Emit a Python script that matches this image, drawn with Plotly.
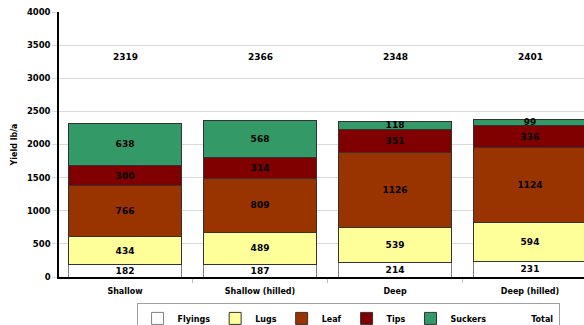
import plotly.graph_objects as go

categories = ["Shallow", "Shallow (hilled)", "Deep", "Deep (hilled)"]
flyings = [182, 187, 214, 231]
lugs = [434, 489, 539, 594]
leaf = [766, 809, 1126, 1124]
tips = [300, 314, 351, 336]
suckers = [638, 568, 118, 99]
totals = [2319, 2366, 2348, 2401]
y_ticks = list(range(0, 4001, 500))

TOTAL_LABEL_Y = 3320
FONT = "DejaVu Sans"

series = [
    ("Flyings", flyings, "#FFFFFF", "#7f7f7f"),
    ("Lugs", lugs, "#FFFF99", "#333333"),
    ("Leaf", leaf, "#993300", "#333333"),
    ("Tips", tips, "#800000", "#333333"),
    ("Suckers", suckers, "#339966", "#333333"),
]

fig = go.Figure()
for name, vals, color, lc in series:
    fig.add_trace(go.Bar(
        x=categories, y=vals, name=name,
        marker=dict(color=color, line=dict(color=lc, width=1)),
        text=[str(v) for v in vals], textposition="inside",
        insidetextanchor="middle", constraintext="none",
        textfont=dict(family=FONT, size=9, color="black", weight="bold"),
        width=0.83,
    ))

# legend-only entry for Total (no visible symbol)
fig.add_trace(go.Bar(
    x=categories, y=[0] * len(categories), name="Total",
    marker=dict(color="rgba(0,0,0,0)", line=dict(width=0)),
    hoverinfo="skip",
))

for c, t in zip(categories, totals):
    fig.add_annotation(x=c, y=TOTAL_LABEL_Y, xref="x", yref="y", text=str(t),
                       showarrow=False,
                       font=dict(family=FONT, size=9, color="black", weight="bold"))

fig.update_layout(
    width=584, height=325,
    barmode="stack",
    margin=dict(l=59, r=0, t=12, b=48),
    paper_bgcolor="white", plot_bgcolor="white",
    font=dict(family=FONT, size=9, color="black", weight="bold"),
    showlegend=True,
    legend=dict(
        orientation="h", xref="container", yref="container",
        x=0.596, xanchor="center", y=0.068, yanchor="top",
        bordercolor="#a0a0a0", borderwidth=1, bgcolor="white",
        font=dict(family=FONT, size=8, color="black", weight="bold"),
        itemwidth=30, traceorder="normal",
    ),
    xaxis=dict(
        range=[-0.489, 3.4], showline=True, linecolor="black", linewidth=1.5,
        ticks="outside", tickson="boundaries", ticklen=4, tickcolor="#c0c0c0",
        showgrid=False, ticklabelstandoff=6,
        tickfont=dict(family=FONT, size=8, color="black", weight="bold"),
    ),
    yaxis=dict(
        range=[0, 4000], tickvals=y_ticks, showline=True, linecolor="black",
        linewidth=1.5, showgrid=True, gridcolor="#d9d9d9", gridwidth=1,
        ticks="outside", ticklen=5, tickcolor="#d9d9d9",
        tickfont=dict(family=FONT, size=8.5, color="black", weight="bold"),
        title=dict(text="Yield lb/a", standoff=8,
                   font=dict(family=FONT, size=8, color="black", weight="bold")),
        zeroline=False,
    ),
)

fig.write_html("out.html")
